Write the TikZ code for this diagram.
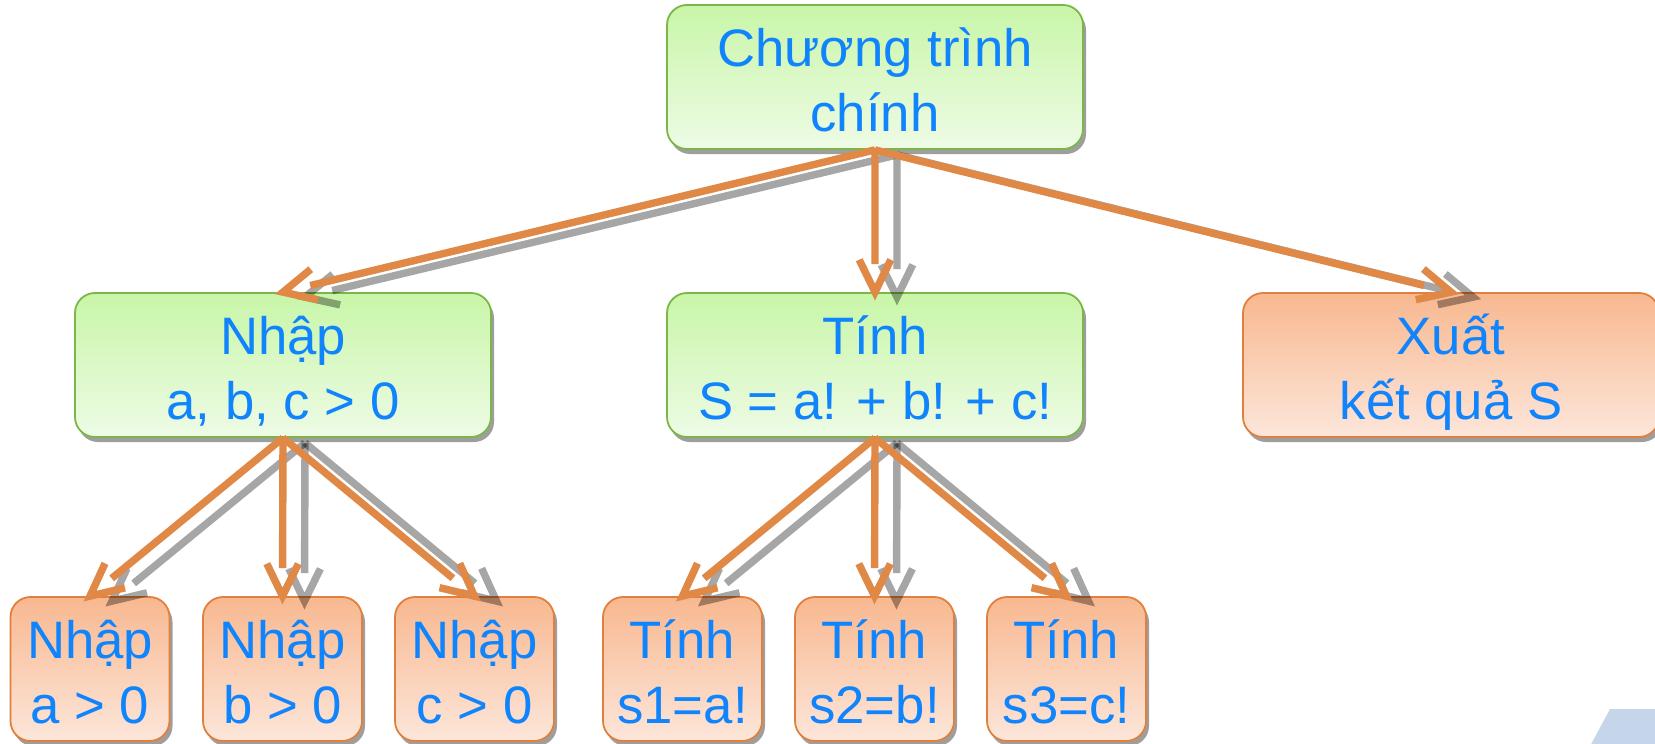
\documentclass[tikz,border=0pt]{standalone}
\usepackage{fontspec}
\setmainfont{Liberation Sans}
\usetikzlibrary{calc,shadows}
\definecolor{txtblue}{RGB}{16,132,252}
\definecolor{gtop}{RGB}{200,246,168}
\definecolor{gbot}{RGB}{238,251,230}
\definecolor{gline}{RGB}{125,182,72}
\definecolor{otop}{RGB}{248,184,144}
\definecolor{obot}{RGB}{252,230,218}
\definecolor{oline}{RGB}{225,128,60}
\definecolor{arrorange}{RGB}{224,136,70}
\definecolor{cornerblue}{RGB}{197,213,234}
\newcommand\boxfont{\fontsize{26.35pt}{32.5pt}\selectfont}
\newcommand\hstrut{\rule{0pt}{27.5pt}}
\newcommand\dstrut{\rule[-6pt]{0pt}{6pt}}
\newcommand\conn[2]{%
  \coordinate (cs) at ($(#1.south)+(22,5)$);
  \coordinate (ct) at ($(#2.north)+(22,5)$);
  \draw[garrow] (cs) -- ($(ct)!14pt!(cs)$)
     ($(ct)!18pt!26:(cs)$) -- (ct) -- ($(ct)!18pt!-26:(cs)$);
  \draw[oarrow] (#1.south) -- ($(#2.north)!14pt!(#1.south)$)
     ($(#2.north)!18pt!26:(#1.south)$) -- (#2.north) -- ($(#2.north)!18pt!-26:(#1.south)$);
}
\begin{document}
\begin{tikzpicture}[x=0.5pt, y=-0.5pt,
  box/.style={rounded corners=10pt, line width=0.9pt, minimum height=72pt, inner sep=0pt,
    align=center, text=txtblue, font=\boxfont,
    drop shadow={shadow xshift=1.5pt, shadow yshift=-2.5pt, fill=black, opacity=0.38}},
  wide/.style={minimum width=208pt},
  narrow/.style={minimum width=79.5pt},
  gbox/.style={box, draw=gline, top color=gtop, bottom color=gbot},
  obox/.style={box, draw=oline, top color=otop, bottom color=obot},
  garrow/.style={draw=black, draw opacity=0.35, line width=3.7pt},
  oarrow/.style={draw=arrorange, line width=3.7pt},
]
\useasboundingbox (0,0) rectangle (1655,744);
\clip (0,0) rectangle (1655,744);

\fill[cornerblue] (1610,709) -- (1660,709) -- (1660,750) -- (1588,750) -- cycle;

\node[gbox, wide] (main) at (875,77) {\hstrut Chương trình\\chính\dstrut};
\node[gbox, wide] (nhap) at (283,365) {\hstrut Nhập\\a, b, c > 0\dstrut};
\node[gbox, wide] (tinh) at (875,365) {\hstrut Tính\\S = a! + b! + c!\dstrut};
\node[obox, wide] (xuat) at (1451,365) {\hstrut Xuất\\kết quả S\dstrut};

\node[obox, narrow] (na) at (90,669) {\hstrut Nhập\\a > 0\dstrut};
\node[obox, narrow] (nb) at (282.5,669) {\hstrut Nhập\\b > 0\dstrut};
\node[obox, narrow] (nc) at (474.5,669) {\hstrut Nhập\\c > 0\dstrut};
\node[obox, narrow] (s1) at (682.5,669) {\hstrut Tính\\s1=a!\dstrut};
\node[obox, narrow] (s2) at (874.5,669) {\hstrut Tính\\s2=b!\dstrut};
\node[obox, narrow] (s3) at (1066.5,669) {\hstrut Tính\\s3=c!\dstrut};

\conn{main}{nhap}
\conn{main}{tinh}
\conn{main}{xuat}
\conn{nhap}{na}
\conn{nhap}{nb}
\conn{nhap}{nc}
\conn{tinh}{s1}
\conn{tinh}{s2}
\conn{tinh}{s3}
\end{tikzpicture}
\end{document}
